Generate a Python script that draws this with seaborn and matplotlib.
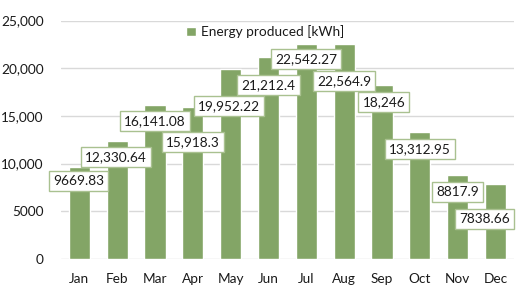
import matplotlib
matplotlib.use("Agg")
import matplotlib.pyplot as plt
import seaborn as sns
import pandas as pd
from matplotlib.ticker import FuncFormatter

months = ["Jan", "Feb", "Mar", "Apr", "May", "Jun", "Jul", "Aug", "Sep", "Oct", "Nov", "Dec"]
energy = [9669.83, 12330.64, 16141.08, 15918.3, 19952.22, 21212.4,
          22542.27, 22564.9, 18246, 13312.95, 8817.9, 7838.66]
label_texts = ["9669.83", "12,330.64", "16,141.08", "15,918.3", "19,952.22", "21,212.4",
               "22,542.27", "22,564.9", "18,246", "13,312.95", "8817.9", "7838.66"]
series_name = "Energy produced [kWh]"
yticks = [0, 5000, 10000, 15000, 20000, 25000]

# label offsets from bar top, in pixels (dx, dy-down)
label_dx = [-1, -1, 0, 0, -2, 0, 0, 0, 2, 0, 0, -11]
label_dy = [14, 16, 16, 35, 37, 28, 15, 37, 17, 17, 17, 35]

sns.set_theme(style="white")
plt.rcParams['font.family'] = ['Lato', 'DejaVu Sans']

BAR = "#83A566"
EDGE = "#A9C190"
GRID = "#D9D9D9"

fig = plt.figure(figsize=(5.24, 2.89), dpi=100)
ax = fig.add_axes([0.1155, 0.1038, 0.866, 0.825])

df = pd.DataFrame({"month": months, "energy": energy})
sns.barplot(data=df, x="month", y="energy", color=BAR, width=0.56,
            saturation=1, ax=ax, label=series_name, zorder=2)

ax.set_ylim(0, 25000)
ax.set_xlim(-0.5, 11.5)
ax.set_yticks(yticks)
ax.yaxis.set_major_formatter(FuncFormatter(lambda v, p: "0" if v == 0 else (f"{int(v)}" if v < 10000 else f"{int(v):,}")))
ax.grid(axis="y", color=GRID, linewidth=1.0, zorder=0)
ax.set_axisbelow(True)
for s in ax.spines.values():
    s.set_visible(False)
ax.set_xlabel("")
ax.set_ylabel("")
ax.tick_params(axis="y", labelsize=9.8, pad=12, length=0, colors="#1a1a1a")
ax.tick_params(axis="x", labelsize=9.8, pad=10, length=0, colors="#1a1a1a")

for i, (v, t) in enumerate(zip(energy, label_texts)):
    ax.annotate(t, xy=(i, v), xytext=(label_dx[i], -label_dy[i]),
                textcoords="offset pixels", ha="center", va="center",
                fontsize=9.8, color="#1a1a1a", zorder=5,
                bbox=dict(boxstyle="square,pad=0.3", fc="white", ec=EDGE, lw=1.0))

leg = ax.legend(loc="center left", bbox_to_anchor=(186 / 524, 1 - 32 / 289),
                bbox_transform=fig.transFigure, frameon=False, fontsize=9.8,
                handlelength=0.7, handleheight=0.7, handletextpad=0.4,
                borderpad=0, borderaxespad=0)
for txt in leg.get_texts():
    txt.set_color("#1a1a1a")

fig.savefig("out.png", dpi=100)
